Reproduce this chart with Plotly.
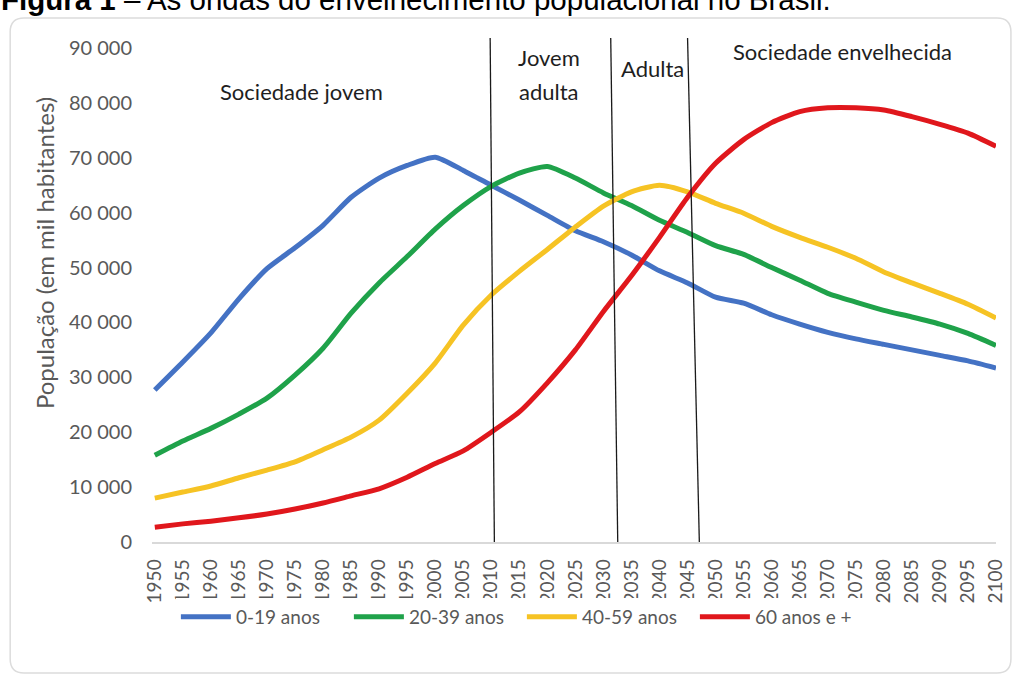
import plotly.graph_objects as go

# Brazilian population by age group, thousands of inhabitants (1950-2100)
years = list(range(1950, 2101, 5))

pop_0_19 = [27700, 32800, 38100, 44300, 49800, 53600, 57700, 62800, 66300, 68600,
            70100, 67700, 65000, 62300, 59500, 56700, 54700, 52300, 49400, 47200,
            44600, 43500, 41400, 39700, 38200, 37000, 36000, 35000, 34000, 33000, 31700]
pop_20_39 = [15800, 18400, 20700, 23300, 26200, 30400, 35300, 41700, 47200, 52000,
             57000, 61300, 64800, 67200, 68400, 66300, 63600, 61300, 58600, 56400,
             54000, 52400, 50000, 47700, 45300, 43700, 42200, 41000, 39700, 38000, 35800]
pop_40_59 = [8000, 9100, 10200, 11700, 13100, 14600, 16800, 19100, 22200, 27100,
             32600, 39500, 45000, 49300, 53300, 57400, 61200, 63800, 65000, 63800,
             61700, 59900, 57500, 55500, 53700, 51700, 49200, 47200, 45300, 43300, 40800]
pop_60_plus = [2700, 3300, 3800, 4400, 5100, 6000, 7100, 8400, 9700, 11800,
               14300, 16600, 20000, 23700, 29000, 35000, 42000, 48500, 55500, 62800,
               69000, 73300, 76400, 78400, 79100, 79100, 78700, 77500, 76100, 74500, 72100]

series_names = ["0-19 anos", "20-39 anos", "40-59 anos", "60 anos e +"]
series_colors = ["#4472C4", "#1FA24A", "#F6C324", "#E0171C"]

y_ticks = list(range(0, 90001, 10000))
y_tick_text = [f"{v:,}".replace(",", " ") for v in y_ticks]

# Phase boundaries (year at top, year at bottom) and phase labels
phase_bounds = [(2009.8, 2010.55), (2031.3, 2032.55), (2045.0, 2047.1)]
phase_top = 91800
phase_labels = [("Sociedade jovem", 1976.1, 82000),
                ("Jovem", 2020.3, 88200),
                ("adulta", 2020.3, 82000),
                ("Adulta", 2038.8, 86200),
                ("Sociedade envelhecida", 2072.7, 89300)]

W, H = 1018, 676
M_L, M_R, M_T, M_B = 152, 18, 37, 134
PW, PH = W - M_L - M_R, H - M_T - M_B


def px(xp):
    return (xp - M_L) / PW


def py(yp):
    return (H - M_B - yp) / PH


fig = go.Figure()
for name, color, vals in zip(series_names, series_colors,
                             [pop_0_19, pop_20_39, pop_40_59, pop_60_plus]):
    fig.add_trace(go.Scatter(x=years, y=vals, mode="lines", name=name,
                             line=dict(color=color, width=5, shape="spline", smoothing=0.6)))

for x_top, x_bot in phase_bounds:
    fig.add_shape(type="line", xref="x", yref="y", x0=x_top, y0=phase_top, x1=x_bot, y1=0,
                  line=dict(color="#1a1a1a", width=1.3), layer="above")

for text, x, y in phase_labels:
    fig.add_annotation(x=x, y=y, xref="x", yref="y", text=text, showarrow=False,
                       font=dict(family="Lato", size=22, color="#1e1e1e"))

# Rounded outer frame
x0, x1, yt, yb, r = 9.5, 1015, 18, 673, 14
frame = (f"M {px(x0 + r)},{py(yt)} L {px(x1 - r)},{py(yt)} Q {px(x1)},{py(yt)} {px(x1)},{py(yt + r)} "
         f"L {px(x1)},{py(yb - r)} Q {px(x1)},{py(yb)} {px(x1 - r)},{py(yb)} "
         f"L {px(x0 + r)},{py(yb)} Q {px(x0)},{py(yb)} {px(x0)},{py(yb - r)} "
         f"L {px(x0)},{py(yt + r)} Q {px(x0)},{py(yt)} {px(x0 + r)},{py(yt)} Z")
fig.add_shape(type="path", xref="paper", yref="paper", path=frame,
              line=dict(color="#dcdcdc", width=1.5), layer="below")

fig.add_annotation(x=px(27), y=py(253), xref="paper", yref="paper", textangle=-90,
                   text="População (em mil habitantes)", showarrow=False,
                   font=dict(family="Lato", size=24, color="#595959"))

fig.add_annotation(x=px(-2), y=py(0), xref="paper", yref="paper", xanchor="left",
                   yanchor="middle", showarrow=False,
                   text="<b>Figura 1</b> – As ondas do envelhecimento populacional no Brasil.",
                   font=dict(family="Liberation Sans", size=29.5, color="#000000"))

fig.update_layout(
    width=W, height=H,
    margin=dict(l=M_L, r=M_R, t=M_T, b=M_B),
    paper_bgcolor="white", plot_bgcolor="white",
    font=dict(family="Lato", color="#595959"),
    showlegend=True,
    legend=dict(orientation="h", x=px(176), y=py(617), xanchor="left", yanchor="middle",
                font=dict(size=19, color="#595959"), itemwidth=50, entrywidth=108),
    xaxis=dict(range=[1949.5, 2100], tickvals=years, ticktext=[str(y) for y in years],
               tickangle=-90, tickfont=dict(size=19, color="#595959"),
               showgrid=False, zeroline=False, showline=True, linecolor="#d9d9d9",
               linewidth=1.5, ticks="", ticklabelstandoff=8),
    yaxis=dict(range=[0, 92000], tickvals=y_ticks, ticktext=y_tick_text,
               tickfont=dict(size=20, color="#595959"), showgrid=False, zeroline=False,
               showline=False, ticks="", ticklabelstandoff=19),
)

fig.write_html("out.html")
